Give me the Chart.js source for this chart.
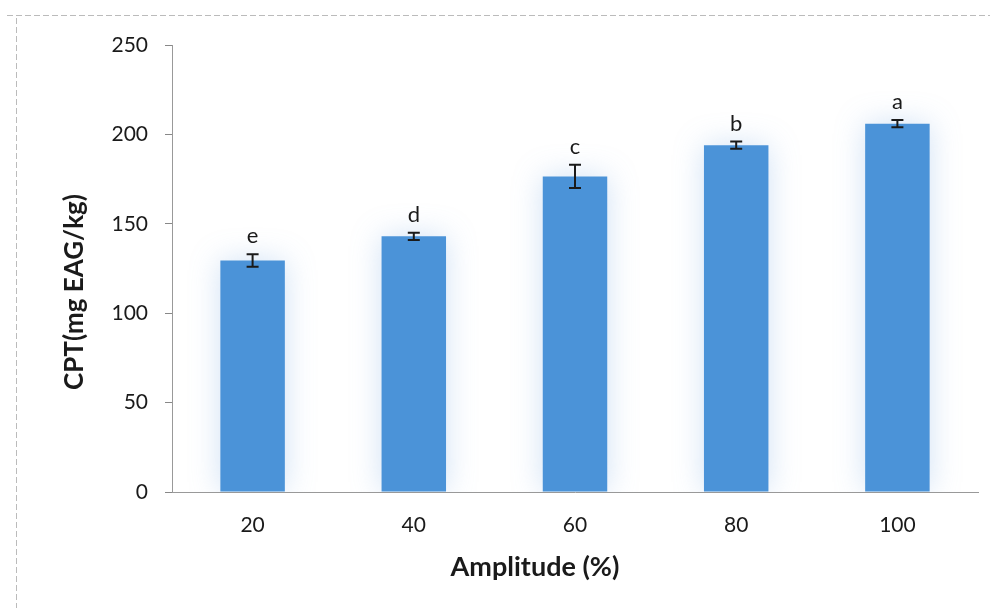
<!DOCTYPE html>
<html>
<head>
<meta charset="utf-8">
<script src="https://cdn.jsdelivr.net/npm/chart.js@4.4.1/dist/chart.umd.min.js"></script>
<style>
html,body{margin:0;padding:0;background:#fff;}
#wrap{position:relative;width:993px;height:608px;}
</style>
</head>
<body>
<div id="wrap"><canvas id="c" width="993" height="608"></canvas></div>
<script>
const categories = ['20', '40', '60', '80', '100'];
const values = [129.5, 143, 176.5, 194, 206];
const errors = [3.5, 2, 6.5, 2, 2];
const letters = ['e', 'd', 'c', 'b', 'a'];
const yTicks = [0, 50, 100, 150, 200, 250];
const yTitle = 'CPT(mg EAG/kg)';
const xTitle = 'Amplitude (%)';

const FONT = 'Lato, "Open Sans", sans-serif';

const glowPlugin = {
  id: 'glow',
  beforeDatasetDraw(chart) {
    const ctx = chart.ctx;
    ctx.save();
    ctx.shadowColor = 'rgba(120,170,225,0.35)';
    ctx.shadowBlur = 30;
  },
  afterDatasetDraw(chart) {
    chart.ctx.restore();
  }
};

const extrasPlugin = {
  id: 'extras',
  afterDatasetsDraw(chart) {
    const ctx = chart.ctx;
    const xs = chart.scales.x, ys = chart.scales.y;
    ctx.save();
    ctx.strokeStyle = '#1a1a1a';
    ctx.lineWidth = 2;
    values.forEach((v, i) => {
      const x = xs.getPixelForValue(i);
      const yt = ys.getPixelForValue(v + errors[i]);
      const yb = ys.getPixelForValue(v - errors[i]);
      ctx.beginPath();
      ctx.moveTo(x, yt); ctx.lineTo(x, yb);
      ctx.moveTo(x - 6, yt); ctx.lineTo(x + 6, yt);
      ctx.moveTo(x - 6, yb); ctx.lineTo(x + 6, yb);
      ctx.stroke();
      ctx.fillStyle = '#1a1a1a';
      ctx.font = '22px ' + FONT;
      ctx.textAlign = 'center';
      ctx.textBaseline = 'bottom';
      ctx.fillText(letters[i], x, yt - 7);
    });
    ctx.restore();
  },
  afterDraw(chart) {
    const ctx = chart.ctx;
    ctx.save();
    ctx.fillStyle = '#1a1a1a';
    ctx.font = 'bold 27px ' + FONT;
    ctx.textAlign = 'center';
    ctx.textBaseline = 'middle';
    ctx.fillText(xTitle, 535, 567);
    ctx.font = 'bold 26px ' + FONT;
    ctx.translate(75, 292);
    ctx.rotate(-Math.PI / 2);
    ctx.fillText(yTitle, 0, 0);
    ctx.restore();
    // faint scan frame
    ctx.save();
    ctx.strokeStyle = '#bbb';
    ctx.lineWidth = 1;
    ctx.setLineDash([6, 3]);
    ctx.beginPath();
    ctx.moveTo(7, 15.5); ctx.lineTo(990, 15.5);
    ctx.moveTo(16.5, 18); ctx.lineTo(16.5, 608);
    ctx.stroke();
    ctx.restore();
  }
};

new Chart(document.getElementById('c'), {
  type: 'bar',
  data: {
    labels: categories,
    datasets: [{
      data: values,
      backgroundColor: '#4b93d8',
      borderWidth: 0,
      categoryPercentage: 1.0,
      barPercentage: 0.4
    }]
  },
  options: {
    responsive: false,
    animation: false,
    devicePixelRatio: 1,
    layout: { padding: { top: 45, right: 15, left: 0, bottom: 0 } },
    plugins: { legend: { display: false }, tooltip: { enabled: false } },
    scales: {
      x: {
        grid: { display: false, drawTicks: false },
        border: { display: true, color: '#999', width: 1 },
        ticks: { color: '#1a1a1a', font: { size: 21, family: FONT }, padding: 21 },
        afterFit(s) { s.height = 116; }
      },
      y: {
        min: 0, max: 250,
        afterBuildTicks(s) { s.ticks = yTicks.map(v => ({ value: v })); },
        grid: { drawOnChartArea: false, drawTicks: true, tickLength: 7, color: '#888' },
        border: { display: true, color: '#999', width: 1, dash: [4, 2] },
        ticks: { color: '#1a1a1a', font: { size: 21, family: FONT }, padding: 17 },
        afterFit(s) { s.width = 172; }
      }
    }
  },
  plugins: [glowPlugin, extrasPlugin]
});
</script>
</body>
</html>
